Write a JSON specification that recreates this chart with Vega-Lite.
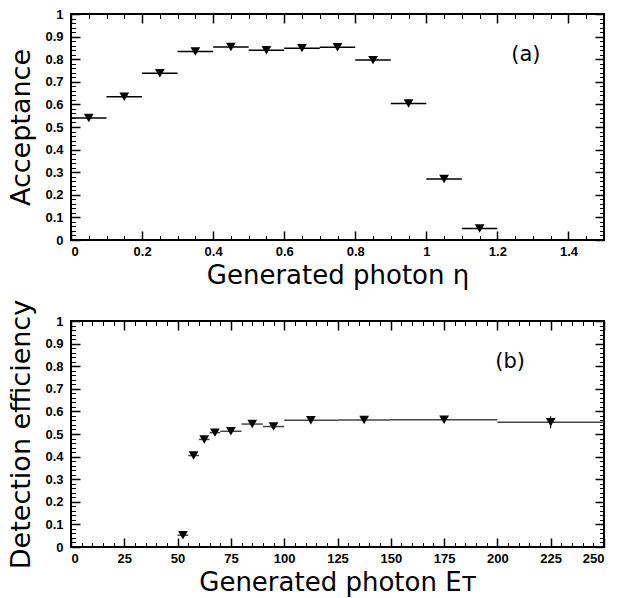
{
  "$schema": "https://vega.github.io/schema/vega-lite/v6.json",
  "background": "white",
  "padding": {"left": 6, "top": 7, "right": 5, "bottom": 2},
  "bounds": "flush",
  "spacing": 81,
  "config": {
    "view": {"stroke": "black", "strokeWidth": 2},
    "axis": {
      "grid": false,
      "domain": false,
      "ticks": true,
      "tickColor": "black",
      "tickWidth": 1,
      "labelFont": "Liberation Sans",
      "labelFontWeight": "bold",
      "labelFontSize": 13,
      "labelColor": "black",
      "titleFont": "DejaVu Sans",
      "titleFontWeight": "normal",
      "titleFontSize": 26,
      "titleColor": "black"
    }
  },
  "datasets": {
    "eta": [
      {"eta": 0.05, "lo": 0.0, "hi": 0.1, "acc": 0.540, "err": 0.010},
      {"eta": 0.15, "lo": 0.1, "hi": 0.2, "acc": 0.634, "err": 0.010},
      {"eta": 0.25, "lo": 0.2, "hi": 0.3, "acc": 0.738, "err": 0.010},
      {"eta": 0.35, "lo": 0.3, "hi": 0.4, "acc": 0.834, "err": 0.012},
      {"eta": 0.45, "lo": 0.4, "hi": 0.5, "acc": 0.854, "err": 0.012},
      {"eta": 0.55, "lo": 0.5, "hi": 0.6, "acc": 0.840, "err": 0.012},
      {"eta": 0.65, "lo": 0.6, "hi": 0.7, "acc": 0.849, "err": 0.012},
      {"eta": 0.75, "lo": 0.7, "hi": 0.8, "acc": 0.853, "err": 0.012},
      {"eta": 0.85, "lo": 0.8, "hi": 0.9, "acc": 0.796, "err": 0.014},
      {"eta": 0.95, "lo": 0.9, "hi": 1.0, "acc": 0.604, "err": 0.010},
      {"eta": 1.05, "lo": 1.0, "hi": 1.1, "acc": 0.270, "err": 0.010},
      {"eta": 1.15, "lo": 1.1, "hi": 1.2, "acc": 0.051, "err": 0.008}
    ],
    "et": [
      {"et": 52.5, "lo": 50, "hi": 55, "eff": 0.052, "err": 0.010},
      {"et": 57.5, "lo": 55, "hi": 60, "eff": 0.405, "err": 0.010},
      {"et": 62.5, "lo": 60, "hi": 65, "eff": 0.476, "err": 0.010},
      {"et": 67.5, "lo": 65, "hi": 70, "eff": 0.506, "err": 0.010},
      {"et": 75, "lo": 70, "hi": 80, "eff": 0.512, "err": 0.008},
      {"et": 85, "lo": 80, "hi": 90, "eff": 0.544, "err": 0.008},
      {"et": 95, "lo": 90, "hi": 100, "eff": 0.533, "err": 0.008},
      {"et": 112.5, "lo": 100, "hi": 125, "eff": 0.561, "err": 0.008},
      {"et": 137.5, "lo": 125, "hi": 150, "eff": 0.562, "err": 0.008},
      {"et": 175, "lo": 150, "hi": 200, "eff": 0.563, "err": 0.010},
      {"et": 225, "lo": 200, "hi": 250, "eff": 0.552, "err": 0.027}
    ]
  },
  "vconcat": [
    {
      "width": 533,
      "height": 226,
      "data": {"name": "eta"},
      "resolve": {"axis": {"x": "independent", "y": "independent"}},
      "layer": [
        {
          "mark": {"type": "rule", "color": "black", "strokeWidth": 1.5},
          "encoding": {
            "x": {"field": "lo", "type": "quantitative", "scale": {"domain": [0, 1.5], "nice": false},
                  "axis": {"orient": "bottom", "values": [0, 0.2, 0.4, 0.6, 0.8, 1, 1.2, 1.4], "format": ".1~f", "offset": -9, "tickSize": 9, "tickWidth": 1.5, "labelPadding": 5, "title": "Generated photon η", "titlePadding": 4}},
            "x2": {"field": "hi"},
            "y": {"field": "acc", "type": "quantitative", "scale": {"domain": [0, 1], "nice": false},
                  "axis": {"orient": "left", "values": [0, 0.1, 0.2, 0.3, 0.4, 0.5, 0.6, 0.7, 0.8, 0.9, 1], "format": ".1~f", "offset": -9, "tickSize": 9, "tickWidth": 1.5, "labelPadding": 8, "title": "Acceptance", "titleFontSize": 27, "titlePadding": 9}}
          }
        },
        {
          "mark": {"type": "point", "opacity": 0},
          "encoding": {
            "x": {"field": "eta", "type": "quantitative",
                  "axis": {"orient": "bottom", "tickCount": 30, "offset": -4.5, "tickSize": 4.5, "labels": false, "title": null}},
            "y": {"field": "acc", "type": "quantitative",
                  "axis": {"orient": "left", "tickCount": 50, "offset": -4.5, "tickSize": 4.5, "labels": false, "title": null}}
          }
        },
        {
          "transform": [{"calculate": "datum.acc - datum.err", "as": "ylo"}, {"calculate": "datum.acc + datum.err", "as": "yhi"}],
          "mark": {"type": "rule", "color": "black", "strokeWidth": 1},
          "encoding": {
            "x": {"field": "eta", "type": "quantitative",
                  "axis": {"orient": "top", "values": [0, 0.2, 0.4, 0.6, 0.8, 1, 1.2, 1.4], "offset": -9, "tickSize": 9, "tickWidth": 1.5, "labels": false, "title": null}},
            "y": {"field": "ylo", "type": "quantitative",
                  "axis": {"orient": "right", "values": [0, 0.1, 0.2, 0.3, 0.4, 0.5, 0.6, 0.7, 0.8, 0.9, 1], "offset": -9, "tickSize": 9, "tickWidth": 1.5, "labels": false, "title": null}},
            "y2": {"field": "yhi"}
          }
        },
        {
          "mark": {"type": "point", "shape": "triangle-down", "filled": true, "color": "black", "opacity": 1, "size": 95},
          "encoding": {
            "x": {"field": "eta", "type": "quantitative",
                  "axis": {"orient": "top", "tickCount": 30, "offset": -4.5, "tickSize": 4.5, "labels": false, "title": null}},
            "y": {"field": "acc", "type": "quantitative",
                  "axis": {"orient": "right", "tickCount": 50, "offset": -4.5, "tickSize": 4.5, "labels": false, "title": null}}
          }
        },
        {
          "data": {"values": [{"label": "(a)"}]},
          "mark": {"type": "text", "font": "DejaVu Sans", "fontSize": 21, "color": "black"},
          "encoding": {
            "x": {"datum": 1.28, "type": "quantitative", "axis": null},
            "y": {"datum": 0.82, "type": "quantitative", "axis": null},
            "text": {"field": "label"}
          }
        }
      ]
    },
    {
      "width": 533,
      "height": 226,
      "data": {"name": "et"},
      "resolve": {"axis": {"x": "independent", "y": "independent"}},
      "layer": [
        {
          "mark": {"type": "rule", "color": "#444", "strokeWidth": 1.5},
          "encoding": {
            "x": {"field": "lo", "type": "quantitative", "scale": {"domain": [0, 250], "nice": false},
                  "axis": {"orient": "bottom", "values": [0, 25, 50, 75, 100, 125, 150, 175, 200, 225, 250], "format": "d", "offset": -9, "tickSize": 9, "tickWidth": 1.5, "labelPadding": 5, "title": "Generated photon Eᴛ", "titlePadding": 4}},
            "x2": {"field": "hi"},
            "y": {"field": "eff", "type": "quantitative", "scale": {"domain": [0, 1], "nice": false},
                  "axis": {"orient": "left", "values": [0, 0.1, 0.2, 0.3, 0.4, 0.5, 0.6, 0.7, 0.8, 0.9, 1], "format": ".1~f", "offset": -9, "tickSize": 9, "tickWidth": 1.5, "labelPadding": 8, "title": "Detection efficiency", "titleFontSize": 27, "titlePadding": 9}}
          }
        },
        {
          "mark": {"type": "point", "opacity": 0},
          "encoding": {
            "x": {"field": "et", "type": "quantitative",
                  "axis": {"orient": "bottom", "tickCount": 50, "offset": -4.5, "tickSize": 4.5, "labels": false, "title": null}},
            "y": {"field": "eff", "type": "quantitative",
                  "axis": {"orient": "left", "tickCount": 50, "offset": -4.5, "tickSize": 4.5, "labels": false, "title": null}}
          }
        },
        {
          "transform": [{"calculate": "datum.eff - datum.err", "as": "ylo"}, {"calculate": "datum.eff + datum.err", "as": "yhi"}],
          "mark": {"type": "rule", "color": "black", "strokeWidth": 1},
          "encoding": {
            "x": {"field": "et", "type": "quantitative",
                  "axis": {"orient": "top", "values": [0, 25, 50, 75, 100, 125, 150, 175, 200, 225, 250], "offset": -9, "tickSize": 9, "tickWidth": 1.5, "labels": false, "title": null}},
            "y": {"field": "ylo", "type": "quantitative",
                  "axis": {"orient": "right", "values": [0, 0.1, 0.2, 0.3, 0.4, 0.5, 0.6, 0.7, 0.8, 0.9, 1], "offset": -9, "tickSize": 9, "tickWidth": 1.5, "labels": false, "title": null}},
            "y2": {"field": "yhi"}
          }
        },
        {
          "mark": {"type": "point", "shape": "triangle-down", "filled": true, "color": "black", "opacity": 1, "size": 95},
          "encoding": {
            "x": {"field": "et", "type": "quantitative",
                  "axis": {"orient": "top", "tickCount": 50, "offset": -4.5, "tickSize": 4.5, "labels": false, "title": null}},
            "y": {"field": "eff", "type": "quantitative",
                  "axis": {"orient": "right", "tickCount": 50, "offset": -4.5, "tickSize": 4.5, "labels": false, "title": null}}
          }
        },
        {
          "data": {"values": [{"label": "(b)"}]},
          "mark": {"type": "text", "font": "DejaVu Sans", "fontSize": 21, "color": "black"},
          "encoding": {
            "x": {"datum": 206, "type": "quantitative", "axis": null},
            "y": {"datum": 0.82, "type": "quantitative", "axis": null},
            "text": {"field": "label"}
          }
        }
      ]
    }
  ]
}
